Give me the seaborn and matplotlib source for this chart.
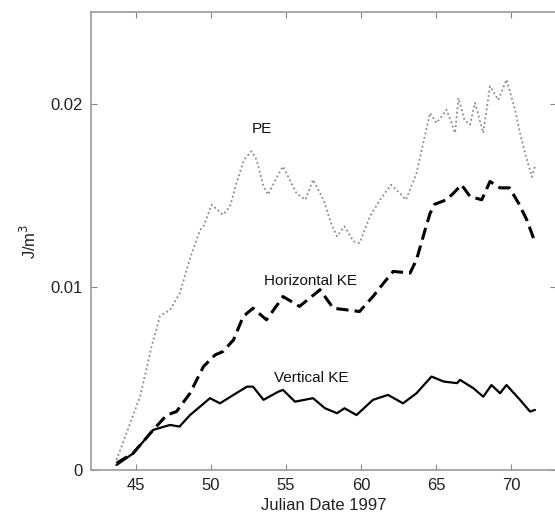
import matplotlib
matplotlib.use("Agg")
import matplotlib.pyplot as plt
import seaborn as sns
import pandas as pd

# ---- data ----
pe_day = [43.7, 45.27, 46.04, 46.6, 47.27, 47.93, 48.6, 49.27, 49.5, 50.04, 50.8, 51.27, 51.7,
          52.2, 52.7, 53.04, 53.5, 53.8, 54.4, 54.8, 55.7, 56.3, 56.8, 57.5, 58.0, 58.4, 58.9,
          59.5, 59.9, 60.6, 61.27, 62.0, 62.6, 63.0, 63.7, 64.15, 64.6, 65.04, 65.7, 66.27,
          66.5, 66.9, 67.27, 67.6, 68.15, 68.6, 69.15, 69.7, 70.27, 70.6, 70.93, 71.4, 71.6]
pe_val = [0.00055, 0.0040, 0.00674, 0.0084, 0.00874, 0.00967, 0.01155, 0.0131, 0.0133, 0.01448,
          0.01393, 0.01439, 0.01566, 0.01694, 0.0174, 0.01694, 0.01548, 0.01503, 0.0160, 0.01657,
          0.0151, 0.01475, 0.01585, 0.01475, 0.01348, 0.01275, 0.0133, 0.01248, 0.01239, 0.01384,
          0.01475, 0.01557, 0.0151, 0.01475, 0.0162, 0.01785, 0.01949, 0.01894, 0.01967, 0.0184,
          0.0203, 0.0191, 0.01885, 0.02004, 0.0184, 0.02095, 0.0202, 0.02131, 0.01967, 0.0184,
          0.0173, 0.0160, 0.01657]

hke_day = [43.7, 44.8, 46.15, 47.05, 47.7, 48.6, 49.5, 50.27, 50.8, 51.5, 52.15, 52.8, 53.7,
           54.5, 54.8, 55.9, 57.27, 58.15, 59.05, 59.9, 60.8, 61.5, 62.15, 63.27, 63.7, 64.27,
           64.6, 64.9, 65.7, 66.15, 66.7, 67.27, 68.05, 68.6, 69.27, 69.9, 70.5, 71.05, 71.5]
hke_val = [0.00037, 0.00091, 0.00219, 0.0030, 0.00319, 0.00419, 0.00565, 0.00628, 0.00647,
           0.0071, 0.00838, 0.00883, 0.0082, 0.00911, 0.00947, 0.00893, 0.00984, 0.00883,
           0.00874, 0.00865, 0.00947, 0.0102, 0.01084, 0.01075, 0.01148, 0.0131, 0.01400,
           0.01450, 0.01475, 0.0151, 0.01557, 0.01493, 0.01475, 0.01575, 0.0154, 0.0154,
           0.01457, 0.01366, 0.01266]

vke_day = [43.7, 44.8, 46.15, 47.27, 47.9, 48.6, 49.27, 49.93, 50.6, 51.5, 52.4, 52.8, 53.5,
           54.5, 54.8, 55.6, 56.8, 57.6, 58.4, 58.9, 59.7, 60.8, 61.8, 62.8, 63.7, 64.7, 65.5,
           66.4, 66.6, 67.5, 68.15, 68.7, 69.27, 69.7, 70.6, 71.27, 71.6]
vke_val = [0.00027, 0.0009, 0.00219, 0.00246, 0.00237, 0.0030, 0.00346, 0.00392, 0.00364,
           0.0041, 0.00455, 0.00455, 0.00383, 0.00428, 0.00437, 0.00373, 0.00392, 0.00337,
           0.0031, 0.00337, 0.0030, 0.00383, 0.0041, 0.00364, 0.00419, 0.0051, 0.00483,
           0.00474, 0.00492, 0.00446, 0.0040, 0.00464, 0.00419, 0.00464, 0.00383, 0.00319,
           0.00328]

xticks = [45, 50, 55, 60, 65, 70]
yticks = [0, 0.01, 0.02]
ytick_labels = ["0", "0.01", "0.02"]

sns.set_style("ticks")
plt.rcParams["font.family"] = ["Liberation Sans", "DejaVu Sans"]

fig = plt.figure(figsize=(5.55, 5.23), dpi=100)
ax = fig.add_axes([91 / 555, 53 / 523, 465 / 555, 458 / 523])

pe = pd.DataFrame({"day": pe_day, "val": pe_val})
hke = pd.DataFrame({"day": hke_day, "val": hke_val})
vke = pd.DataFrame({"day": vke_day, "val": vke_val})

sns.lineplot(data=pe, x="day", y="val", ax=ax, color="#8a8a8a", lw=1.3, linestyle=(0, (1, 1.5)))
sns.lineplot(data=hke, x="day", y="val", ax=ax, color="black", lw=2.2, linestyle=(0, (4, 2)))
sns.lineplot(data=vke, x="day", y="val", ax=ax, color="black", lw=1.6)

ax.set_xlim(42, 73)
ax.set_ylim(0, 0.025)
ax.set_xticks(xticks)
ax.set_yticks(yticks)
ax.set_yticklabels(ytick_labels)
ax.tick_params(direction="in", length=4, width=0.8, color="#888888", labelcolor="#222222",
               labelsize=12, top=True, right=True, pad=6)
for s in ax.spines.values():
    s.set_color("#999999")
    s.set_linewidth(1.2)

ax.set_xlabel("Julian Date 1997", fontsize=12, color="#222222", labelpad=3)
ax.set_ylabel("J/m$^3$", fontsize=12, color="#222222", labelpad=8)

ax.text(53.4, 0.0186, "PE", ha="center", va="center", fontsize=11, color="#111111")
ax.text(56.6, 0.0103, "Horizontal KE", ha="center", va="center", fontsize=11, color="#111111")
ax.text(56.7, 0.0050, "Vertical KE", ha="center", va="center", fontsize=11, color="#111111")

fig.savefig("out.png", dpi=100)
